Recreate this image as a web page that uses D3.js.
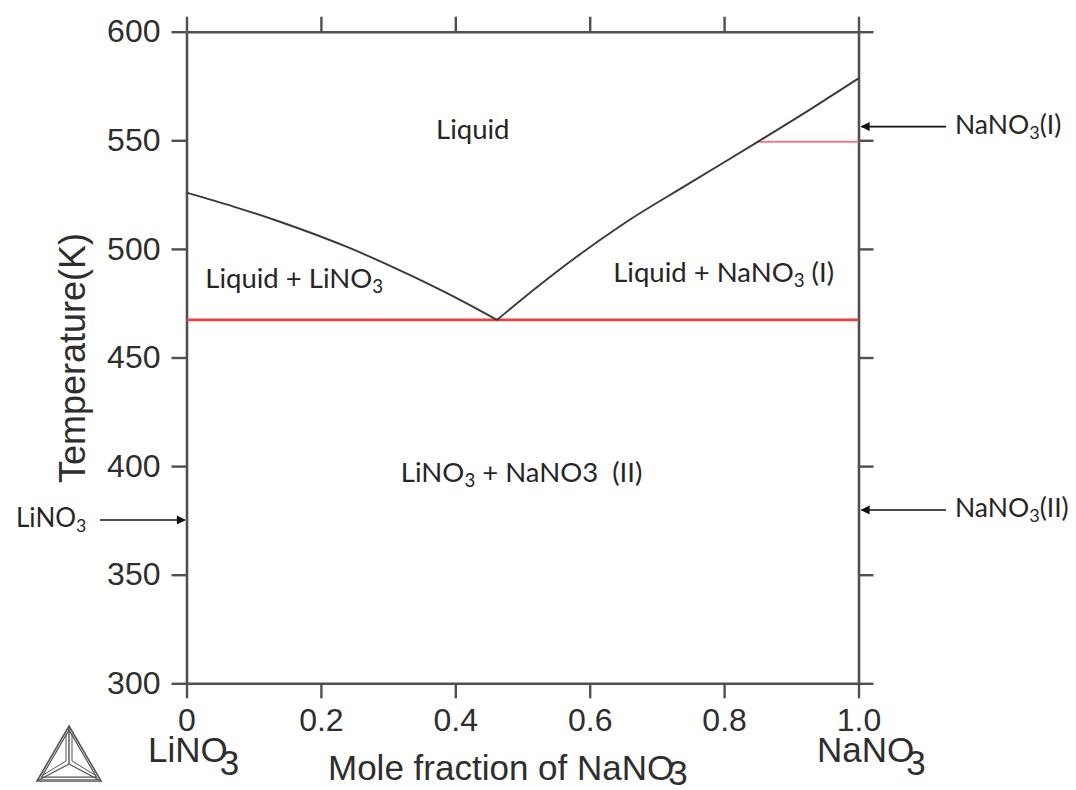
<!DOCTYPE html>
<html>
<head>
<meta charset="utf-8">
<script src="https://cdn.jsdelivr.net/npm/d3@7"></script>
<style>
  html, body { margin: 0; padding: 0; background: #fff; }
  svg { display: block; }
  text { white-space: pre; }
</style>
</head>
<body>
<svg id="chart" width="1076" height="790"></svg>
<script>
// Temperature axis ticks (K) and composition ticks (mole fraction NaNO3)
const tempTicks = [300, 350, 400, 450, 500, 550, 600];
const fracTicks = [0, 0.2, 0.4, 0.6, 0.8, 1.0];
const fracTickLabels = ["0", "0.2", "0.4", "0.6", "0.8", "1.0"];

// Liquidus on the LiNO3-rich side: [x(NaNO3), T(K)]
const liquidusLi = [
  [0.000, 525.9], [0.070, 519.5], [0.139, 512.5], [0.238, 501.0],
  [0.3375, 487.2], [0.412, 475.7], [0.462, 467.3]
];
// Liquidus on the NaNO3-rich side
const liquidusNa = [
  [0.462, 467.3], [0.520, 482.0], [0.581, 496.5], [0.650, 511.5],
  [0.750, 530.5], [0.850, 549.3], [0.930, 564.6], [1.000, 578.5]
];
// Invariant lines: eutectic and NaNO3 (I)/(II) transition
const eutecticT = 467.3;
const eutecticSpan = [0, 1];
const transitionT = 549.3;
const transitionSpan = [0.85, 1];

// Phase-region labels: text pieces (subscript flag), position in data units
const regionLabels = [
  { parts: [["Liquid", false]], x: 0.426, T: 550.5, anchor: "middle" },
  { parts: [["Liquid + LiNO", false], ["3", true]], x: 0.028, T: 482.0, anchor: "start" },
  { parts: [["Liquid + NaNO", false], ["3", true], [" (I)", false]], x: 0.635, T: 484.9, anchor: "start" },
  { parts: [["LiNO", false], ["3", true], [" + NaNO3  (II)", false]], x: 0.319, T: 392.8, anchor: "start" }
];

// Pure-component transition markers (arrows at the axes)
const leftMarkers = [
  { parts: [["LiNO", false], ["3", true]], T: 375.2 }
];
const rightMarkers = [
  { parts: [["NaNO", false], ["3", true], ["(I)", false]], T: 556.3 },
  { parts: [["NaNO", false], ["3", true], ["(II)", false]], T: 379.8 }
];

const svg = d3.select("#chart");
const plotLeft = 186.5, plotRight = 858.5, plotTop = 31.7, plotBottom = 683.3;

const x = d3.scaleLinear().domain([0, 1]).range([plotLeft, plotRight]);
const y = d3.scaleLinear().domain([300, 600]).range([plotBottom, plotTop]);

const axisColor = "#505050";
const textColor = "#2e2e2e";
const tickFont = "'Liberation Sans', Arial, Helvetica, sans-serif";
const labelFont = "Lato, 'Open Sans', sans-serif";

function styleAxis(g) {
  g.select(".domain").attr("stroke", axisColor).attr("stroke-width", 2.6);
  g.selectAll(".tick line").attr("stroke", axisColor).attr("stroke-width", 2.4);
  g.selectAll(".tick text")
    .attr("fill", textColor)
    .style("font-family", tickFont)
    .style("font-size", "32px");
}

// Frame: four axes with outward ticks; the end ticks extend the frame lines
svg.append("g")
  .attr("transform", `translate(0,${plotBottom})`)
  .call(d3.axisBottom(x).tickValues(fracTicks)
    .tickFormat((d, i) => fracTickLabels[i])
    .tickSizeInner(15).tickSizeOuter(0).tickPadding(10))
  .call(styleAxis);

svg.append("g")
  .attr("transform", `translate(0,${plotTop})`)
  .call(d3.axisTop(x).tickValues(fracTicks).tickFormat("")
    .tickSizeInner(15).tickSizeOuter(0))
  .call(styleAxis);

svg.append("g")
  .attr("transform", `translate(${plotLeft},0)`)
  .call(d3.axisLeft(y).tickValues(tempTicks).tickFormat(d3.format("d"))
    .tickSizeInner(15).tickSizeOuter(0).tickPadding(11))
  .call(styleAxis);

svg.append("g")
  .attr("transform", `translate(${plotRight},0)`)
  .call(d3.axisRight(y).tickValues(tempTicks).tickFormat("")
    .tickSizeInner(15).tickSizeOuter(0))
  .call(styleAxis);

// Axis titles
const xTitle = svg.append("text")
  .attr("x", 328).attr("y", 780)
  .attr("fill", textColor)
  .style("font-family", tickFont).style("font-size", "35px");
xTitle.append("tspan").text("Mole fraction of NaNO");
xTitle.append("tspan").attr("dx", -6).attr("dy", 5).text("3");

svg.append("text")
  .attr("transform", "translate(85,358) rotate(-90)")
  .attr("text-anchor", "middle")
  .attr("fill", textColor)
  .style("font-family", tickFont).style("font-size", "36px")
  .text("Temperature(K)");

// End-member names under the composition axis
function endMember(xPos, name) {
  const t = svg.append("text")
    .attr("x", xPos).attr("y", 762)
    .attr("fill", textColor)
    .style("font-family", tickFont).style("font-size", "35px");
  t.append("tspan").text(name);
  t.append("tspan").attr("dx", -8).attr("dy", 13).text("3");
}
endMember(148, "LiNO");
endMember(817, "NaNO");

// Invariant lines
svg.append("line")
  .attr("x1", x(eutecticSpan[0])).attr("x2", x(eutecticSpan[1]))
  .attr("y1", y(eutecticT)).attr("y2", y(eutecticT))
  .attr("stroke", "#e8403a").attr("stroke-width", 2.6);

svg.append("line")
  .attr("x1", x(transitionSpan[0])).attr("x2", x(transitionSpan[1]))
  .attr("y1", y(transitionT)).attr("y2", y(transitionT))
  .attr("stroke", "#ee7b7b").attr("stroke-width", 2);

// Liquidus curves
const line = d3.line()
  .x(d => x(d[0])).y(d => y(d[1]))
  .curve(d3.curveMonotoneX);

[liquidusLi, liquidusNa].forEach(pts => {
  svg.append("path")
    .attr("d", line(pts))
    .attr("fill", "none")
    .attr("stroke", "#3a3a3a")
    .attr("stroke-width", 1.9);
});

// Text with optional subscripts
function richText(sel, parts, size) {
  parts.forEach(([str, sub], i) => {
    const ts = sel.append("tspan").text(str);
    if (sub) {
      ts.attr("dy", size * 0.2).style("font-size", (size * 0.68) + "px");
    } else if (i > 0) {
      ts.attr("dy", -size * 0.2);
    }
  });
  return sel;
}

regionLabels.forEach(lab => {
  const t = svg.append("text")
    .attr("x", x(lab.x)).attr("y", y(lab.T))
    .attr("text-anchor", lab.anchor)
    .attr("fill", "#262626")
    .style("font-family", labelFont).style("font-size", "27.5px");
  richText(t, lab.parts, 27.5);
});

// Arrow markers
const defs = svg.append("defs");
defs.append("marker")
  .attr("id", "arrowHead")
  .attr("viewBox", "0 0 10 10")
  .attr("refX", 9).attr("refY", 5)
  .attr("markerWidth", 11).attr("markerHeight", 9)
  .attr("markerUnits", "userSpaceOnUse")
  .attr("orient", "auto")
  .append("path").attr("d", "M0,0 L10,5 L0,10 Z").attr("fill", "#111");

leftMarkers.forEach(m => {
  svg.append("line")
    .attr("x1", 100).attr("x2", plotLeft - 1.5)
    .attr("y1", y(m.T)).attr("y2", y(m.T))
    .attr("stroke", "#111").attr("stroke-width", 1.6)
    .attr("marker-end", "url(#arrowHead)");
  const t = svg.append("text")
    .attr("x", 16).attr("y", y(m.T) + 7)
    .attr("fill", "#262626")
    .style("font-family", labelFont).style("font-size", "26px");
  richText(t, m.parts, 26);
});

rightMarkers.forEach(m => {
  svg.append("line")
    .attr("x1", 946).attr("x2", plotRight + 3)
    .attr("y1", y(m.T)).attr("y2", y(m.T))
    .attr("stroke", "#111").attr("stroke-width", 1.6)
    .attr("marker-end", "url(#arrowHead)");
  const t = svg.append("text")
    .attr("x", 955).attr("y", y(m.T) + 7)
    .attr("fill", "#262626")
    .style("font-family", labelFont).style("font-size", "26.5px");
  richText(t, m.parts, 26.5);
});

// Program logo (triangle emblem) at the lower left
const logo = svg.append("g").attr("transform", "translate(69,754)")
  .attr("fill", "none").attr("stroke", "#555").attr("stroke-linejoin", "miter");
const tri = s => `M0,${-28 * s} L${32 * s},${27 * s} L${-32 * s},${27 * s} Z`;
logo.append("path").attr("d", tri(1)).attr("stroke-width", 1.6);
logo.append("path").attr("d", tri(0.86)).attr("stroke-width", 1.2);
logo.append("path").attr("d", "M-30,25 L30,25 L32,27 L-32,27 Z").attr("fill", "#888").attr("stroke", "none");
logo.append("path").attr("d", "M0,-28 L0,10 M0,10 L32,27 M0,10 L-32,27").attr("stroke-width", 1.4);
logo.append("path").attr("d", "M3,-20 L3,7 M3,7 L26,21 M-3,7 L-26,21 M-3,-20 L-3,7").attr("stroke-width", 1);
</script>
</body>
</html>
